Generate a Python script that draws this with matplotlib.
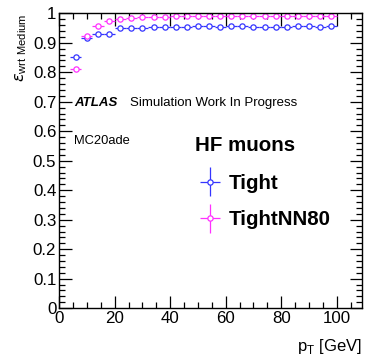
import numpy as np
import matplotlib
matplotlib.use('Agg')
from matplotlib import pyplot as plt
from matplotlib.ticker import MultipleLocator
from matplotlib.legend_handler import HandlerErrorbar

plt.rcParams['font.family'] = ['Liberation Sans', 'DejaVu Sans']

# pT bin edges [GeV]
pt_edges = [4, 8, 12, 16, 20, 24, 28, 32, 36, 40, 44, 48, 52, 56, 60, 64,
            68, 72, 76, 80, 84, 88, 92, 96, 100]

eff_tight = [0.853, 0.916, 0.930, 0.931, 0.950, 0.950, 0.951, 0.953, 0.953,
             0.954, 0.955, 0.956, 0.956, 0.955, 0.956, 0.957, 0.955, 0.955,
             0.955, 0.954, 0.956, 0.956, 0.953, 0.956]
eff_nn80 = [0.812, 0.924, 0.958, 0.973, 0.980, 0.984, 0.986, 0.988, 0.989,
            0.990, 0.990, 0.991, 0.991, 0.991, 0.991, 0.992, 0.991, 0.991,
            0.991, 0.990, 0.991, 0.990, 0.991, 0.990]
err_tight = [0.004, 0.003, 0.002, 0.002, 0.002, 0.002, 0.002, 0.002, 0.002,
             0.002, 0.002, 0.002, 0.002, 0.002, 0.002, 0.002, 0.002, 0.002,
             0.002, 0.002, 0.002, 0.002, 0.002, 0.002]
err_nn80 = [0.004, 0.003, 0.002, 0.002, 0.001, 0.001, 0.001, 0.001, 0.001,
            0.001, 0.001, 0.001, 0.001, 0.001, 0.001, 0.001, 0.001, 0.001,
            0.001, 0.001, 0.001, 0.001, 0.001, 0.001]

edges = np.array(pt_edges)
centers = 0.5*(edges[1:]+edges[:-1])
half = 0.5*(edges[1:]-edges[:-1])

fig = plt.figure(figsize=(3.65, 3.6), dpi=100)
ax = fig.add_axes([0.162, 0.144, 0.829, 0.819])

blue = '#3535ff'
mag = '#ff30ff'
eb1 = ax.errorbar(centers, eff_tight, xerr=half, yerr=err_tight, fmt='o',
                  color=blue, mfc='white', mec=blue, ms=3.8, mew=0.9,
                  elinewidth=0.9, capsize=0, label='Tight')
eb2 = ax.errorbar(centers, eff_nn80, xerr=half, yerr=err_nn80, fmt='o',
                  color=mag, mfc='white', mec=mag, ms=3.8, mew=0.9,
                  elinewidth=0.9, capsize=0, label='TightNN80')

ax.set_xlim(0, 109)
ax.set_ylim(0, 1)
ax.xaxis.set_major_locator(MultipleLocator(20))
ax.xaxis.set_minor_locator(MultipleLocator(5))
ax.yaxis.set_major_locator(MultipleLocator(0.1))
ax.yaxis.set_minor_locator(MultipleLocator(0.02))
ax.set_yticks(np.arange(0, 1.01, 0.1))
ax.set_yticklabels(['0', '0.1', '0.2', '0.3', '0.4', '0.5', '0.6', '0.7', '0.8', '0.9', '1'])
ax.tick_params(which='both', direction='in', top=True, right=True, labelsize=12.2,
               width=0.9, pad=2)
ax.tick_params(which='major', length=9)
ax.tick_params(which='minor', length=4.5)
for s in ax.spines.values():
    s.set_linewidth(1.0)

ax.set_xlabel(r'p$_{\mathregular{T}}$ [GeV]', fontsize=12, loc='right', labelpad=8)
ax.set_ylabel(r'$\epsilon_{\mathregular{wrt\ Medium}}$', fontsize=11.5, loc='top', labelpad=3)

ax.text(0.05, 0.695, 'ATLAS', transform=ax.transAxes, fontsize=9.5,
        fontweight='bold', style='italic', va='center')
ax.text(0.235, 0.695, 'Simulation Work In Progress', transform=ax.transAxes,
        fontsize=9.5, va='center')
ax.text(0.05, 0.568, 'MC20ade', transform=ax.transAxes, fontsize=9.3, va='center')
ax.text(0.449, 0.553, 'HF muons', transform=ax.transAxes, fontsize=14.8,
        fontweight='bold', va='center')

ax.legend(handles=[eb1, eb2], loc='upper left',
          bbox_to_anchor=(0.456, 0.455), frameon=False, borderpad=0,
          borderaxespad=0, prop={'weight': 'bold', 'size': 14.8},
          handlelength=1.25, handletextpad=0.3, labelspacing=0.85,
          handler_map={type(eb1): HandlerErrorbar(xerr_size=0.5, yerr_size=0.7)})

plt.savefig('out.png', dpi=100)
